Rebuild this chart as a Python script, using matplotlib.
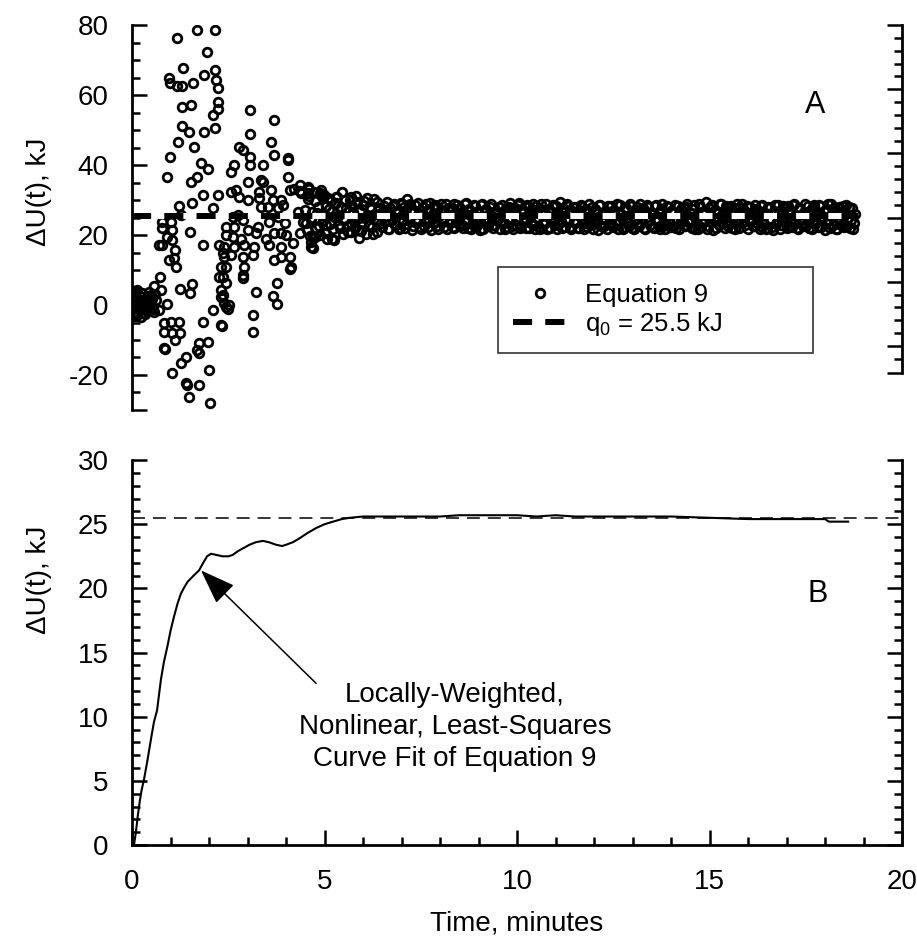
import matplotlib
matplotlib.use('Agg')
import matplotlib.pyplot as plt
import numpy as np
from matplotlib.lines import Line2D
from matplotlib.ticker import FixedLocator, MultipleLocator

plt.rcParams['font.family'] = ['Liberation Sans', 'DejaVu Sans']
plt.rcParams['axes.unicode_minus'] = False
plt.rcParams['mathtext.default'] = 'regular'

# Panel A: early, widely scattered estimates from Equation 9 (time in minutes, dU in kJ)
early_time = [
    1.18, 1.68, 2.16, 1.94, 1.33, 0.96, 0.98, 1.18, 1.31, 1.59, 1.88, 2.16, 2.18, 2.22, 2.22,
    2.24, 2.09, 1.31, 1.53, 1.29, 1.48, 1.88, 2.16, 1.20, 1.61, 0.98, 1.79, 1.96, 0.90, 1.70,
    1.53, 1.83, 2.22, 1.57, 2.09, 1.21, 0.77, 1.01, 1.27, 0.77, 1.05, 1.50, 0.92, 0.70, 0.79,
    1.05, 1.83, 1.12, 1.09, 0.95, 1.14, 1.24, 1.57, 1.50, 0.73, 0.57, 0.75, 0.14, 0.27, 0.40,
    0.05, 0.18, 0.36, 0.53, 0.10, 0.23, 0.57, 0.70, 0.92, 0.01, 0.31, 0.44, 0.14, 0.62, 0.49,
    0.83, 1.01, 1.21, 0.83, 1.05, 1.24, 1.12, 0.83, 0.85, 1.74, 1.96, 1.70, 1.74, 1.40, 1.27,
    1.05, 2.01, 1.40, 1.42, 1.74, 1.47, 2.02, 1.83, 2.09, 2.31, 2.27, 2.35, 2.31, 2.27, 2.44,
    2.44, 2.31,
    3.06, 3.70, 3.06, 3.61, 2.79, 2.87, 3.06, 3.70, 4.05, 4.05, 2.66, 2.57, 3.06, 3.39, 3.00,
    3.35, 3.39, 4.05, 2.57, 2.70, 2.79, 3.00, 3.31, 3.61, 3.31, 3.65, 3.87, 4.09, 4.35, 4.57,
    4.39, 4.57, 4.87, 4.96, 3.35, 3.52, 3.78, 3.91, 4.31, 2.74, 2.61, 2.87, 2.44, 2.66, 3.00,
    3.26, 3.57, 3.78, 3.96, 4.44, 4.65, 2.44, 2.61, 2.83, 3.22, 3.48, 3.70, 4.00, 4.35, 4.74,
    5.04, 2.40, 2.66, 2.92, 3.18, 3.57, 3.87, 4.18, 4.65, 2.40, 2.57, 2.87, 3.13, 3.87, 4.09,
    3.70, 2.44, 2.92, 2.87, 2.87, 4.13, 4.11, 2.35, 2.31, 2.35, 3.22, 3.76, 3.67, 3.76, 2.40,
    2.53, 2.48, 3.13, 3.13, 2.34,
    4.20, 4.35, 4.60, 4.90, 5.30, 5.70, 4.65, 4.70, 5.20, 5.90, 3.87,
    0.02, 0.06, 0.08, 0.12, 0.16, 0.20, 0.25, 0.29, 0.33, 0.38, 0.42, 0.47, 0.52, 0.55, 0.60,
    0.03, 0.10, 0.21, 0.34, 0.45,
]
early_du = [
    76.2, 78.6, 78.6, 72.4, 67.8, 64.8, 63.3, 62.6, 62.6, 63.3, 65.7, 67.1, 64.3, 61.9, 58.1,
    55.9, 54.3, 56.5, 57.1, 51.1, 49.5, 49.5, 50.5, 46.7, 45.2, 42.4, 40.5, 39.0, 36.7, 36.7,
    35.2, 31.4, 31.4, 29.2, 27.6, 28.3, 23.8, 23.8, 25.7, 21.9, 21.4, 20.9, 19.5, 17.1, 17.1,
    18.6, 17.1, 15.7, 13.3, 12.9, 10.9, 4.5, 6.0, 3.5, 8.1, 5.4, 4.3, 4.3, 3.3, 1.9,
    1.4, 0.0, 0.5, -0.5, -1.9, -3.3, -1.9, -1.4, 0.3, 3.3, -1.0, -1.4, -2.9, 1.4, 2.9,
    -5.2, -4.8, -4.8, -7.6, -8.1, -8.1, -10.0, -12.4, -12.6, -10.9, -10.5, -13.0, -13.6, -14.8, -16.7,
    -19.5, -18.6, -22.4, -22.9, -22.9, -26.2, -28.1, -4.8, -1.4, -5.7, 17.1, 14.8, 10.9, 8.1, 6.2,
    -0.5, 2.4,
    55.7, 52.9, 48.9, 46.7, 45.2, 44.3, 42.4, 42.9, 41.9, 41.4, 40.0, 38.1, 40.0, 40.0, 35.2,
    35.7, 35.2, 36.7, 32.4, 32.9, 30.9, 30.0, 32.4, 32.9, 30.5, 30.0, 30.0, 32.9, 34.3, 33.8,
    31.9, 31.9, 32.1, 30.9, 28.1, 28.1, 27.6, 28.6, 26.7, 25.7, 25.2, 24.3, 22.4, 22.4, 21.4,
    22.4, 23.8, 25.2, 23.3, 23.8, 24.8, 20.0, 19.5, 19.0, 20.5, 19.0, 20.5, 20.0, 20.5, 19.5,
    20.5, 16.7, 16.7, 17.1, 16.7, 17.1, 16.7, 17.6, 16.7, 13.8, 14.3, 13.8, 14.3, 13.8, 13.8,
    12.9, 10.9, 10.9, 8.6, 7.6, 10.9, 10.2, 8.1, 4.3, 2.9, 3.8, 6.2, 2.6, 0.3, 0.5,
    0.0, -1.0, -2.9, -7.6, -6.0,
    33.2, 32.5, 33.1, 31.5, 31.0, 30.8, 17.9, 16.3, 18.8, 19.1, 20.5,
    -1.2, 4.0, -3.1, 2.1, -0.8, 2.5, 0.8, -2.2, 1.6, -0.2, 2.4, 0.6, 1.8, -1.0, 3.1,
    2.6, 0.4, -1.5, -2.6, 3.6,
]

# Panel A: settled samples, one every 0.05 min from 4.5 min on ...
BAND_START = 4.5
BAND_STEP = 0.05
band_du = [
    27.1, 21.4, 31.2, 24.6, 19.3, 29.8, 26.2, 22.7, 33.0, 24.1, 20.5, 28.4, 30.6, 23.2, 26.9, 18.7, 29.1, 25.3, 21.9, 32.2,
    24.4, 27.7, 20.8, 30.1, 23.5, 26.6, 22.1, 29.3, 25.0, 21.2, 28.6, 24.9, 30.7, 22.8, 27.3, 20.4, 26.1, 29.5, 23.9, 25.7,
    22.3, 28.2, 25.4, 21.7, 27.6, 24.2, 29.0, 23.0, 26.8, 22.0, 28.9, 25.9, 21.9, 30.4, 24.7, 27.2, 22.6, 28.5, 23.8, 26.4,
    21.8, 28.1, 24.5, 26.9, 22.4, 29.1, 25.2, 23.3, 28.4, 21.6, 27.0, 24.8, 22.2, 28.8, 25.6, 23.5, 27.7, 21.9, 26.3, 28.6,
    23.1, 25.8, 22.0, 28.9, 24.4, 27.4, 21.7, 26.0, 28.3, 23.6, 25.1, 21.5, 29.0, 24.0, 27.5, 22.5, 28.1, 25.4, 22.9, 27.0,
    24.6, 21.8, 28.7, 23.4, 26.5, 22.3, 28.0, 25.0, 21.6, 27.8, 24.2, 29.1, 22.7, 26.2, 23.8, 28.5, 21.9, 25.7, 27.3, 22.8,
    28.4, 24.9, 21.7, 27.1, 23.2, 28.8, 25.5, 22.1, 26.7, 24.3, 28.2, 21.6, 25.9, 23.7, 27.6, 22.4, 29.0, 24.6, 21.8, 27.9,
    23.5, 26.4, 22.0, 28.6, 24.8, 21.7, 27.3, 25.2, 22.9, 28.1, 23.9, 26.8, 21.5, 28.7, 24.5, 22.6, 27.0, 25.8, 23.1, 28.3,
    22.2, 25.6, 28.9, 23.7, 26.1, 21.8, 27.7, 24.0, 22.5, 28.4, 25.3, 21.6, 27.2, 23.4, 28.8, 24.7, 22.1, 26.6, 28.0, 23.0,
    25.9, 21.9, 28.5, 24.3, 22.7, 27.5, 25.1, 21.6, 28.2, 23.6, 26.9, 22.4, 28.7, 24.1, 21.8, 27.4, 25.5, 22.9, 28.1, 23.8,
    26.3, 22.0, 28.6, 24.5, 21.7, 27.9, 23.3, 26.0, 29.3, 22.6, 25.4, 28.3, 21.5, 27.1, 24.2, 22.8, 28.9, 25.7, 21.9, 26.8,
    23.5, 28.4, 24.8, 21.6, 27.6, 25.0, 22.3, 28.8, 23.9, 26.5, 21.8, 28.1, 24.4, 22.5, 27.3, 25.3, 21.7, 28.6, 23.2, 26.2,
    22.1, 27.8, 24.7, 21.5, 28.5, 23.7, 26.4, 22.8, 28.2, 25.1, 21.9, 27.0, 24.0, 22.4, 28.9, 25.6, 21.6, 27.5, 23.4, 26.7,
    22.6, 28.3, 24.6, 21.8, 27.9, 23.1, 26.1, 28.7, 22.2, 25.2, 21.5, 27.4, 24.3, 28.8, 22.9, 26.9, 21.7, 28.1, 23.6, 25.8,
    22.4, 28.6, 24.9, 21.9, 27.7, 23.3,
]
# ... and the samples in between (4.525, 4.575, ...)
band_du_mid = [
    23.4, 30.2, 19.8, 26.5, 32.4, 22.0, 27.9, 20.1, 25.6, 31.5, 23.0, 18.9, 27.4, 29.6, 21.6, 25.1, 31.0, 22.8, 28.1, 20.2,
    29.9, 22.5, 26.9, 20.9, 28.3, 24.8, 31.1, 21.5, 27.0, 23.7, 29.8, 20.3, 25.5, 28.0, 22.4, 30.3, 24.1, 21.0, 27.8, 23.3,
    27.0, 23.9, 29.4, 21.6, 25.8, 28.4, 22.9, 26.3, 21.8, 29.2, 24.0, 27.9, 23.1, 25.2, 28.8, 21.5, 26.7, 24.6, 29.1, 22.2,
    25.9, 22.7, 28.8, 23.6, 27.3, 21.5, 26.1, 28.7, 22.6, 25.3, 29.0, 23.9, 26.6, 21.7, 27.8, 24.2, 22.3, 28.9, 23.8, 25.0,
    27.7, 22.9, 26.2, 29.2, 21.9, 25.6, 23.2, 28.7, 22.4, 26.9, 24.1, 28.5, 21.7, 27.1, 23.7, 25.9, 29.0, 22.0, 26.4, 24.3,
    28.1, 23.5, 25.4, 21.7, 27.6, 24.7, 29.2, 22.6, 26.0, 23.0, 28.6, 21.9, 27.3, 24.9, 22.1, 28.0, 25.1, 23.3, 28.8, 21.8,
    26.2, 22.4, 28.9, 23.8, 25.9, 21.6, 27.5, 24.1, 28.7, 22.8, 25.7, 23.2, 29.3, 21.9, 26.6, 24.5, 28.3, 22.3, 27.0, 23.9,
    28.0, 21.9, 25.5, 27.9, 23.4, 26.7, 22.2, 28.8, 24.0, 21.6, 27.4, 23.8, 28.5, 22.5, 26.1, 24.6, 21.7, 28.2, 25.3, 22.8,
    27.1, 23.9, 21.7, 28.6, 25.0, 22.3, 27.8, 23.5, 29.0, 21.9, 26.3, 24.4, 28.1, 22.7, 25.8, 27.6, 21.6, 28.7, 24.2, 26.0,
    22.3, 28.3, 24.6, 26.4, 21.8, 28.9, 23.1, 25.6, 27.9, 22.2, 26.8, 24.0, 21.9, 28.4, 23.5, 25.2, 27.7, 22.6, 28.8, 24.4,
    23.9, 27.3, 21.8, 25.8, 28.8, 22.4, 26.6, 24.0, 21.8, 27.7, 23.6, 28.5, 25.0, 22.1, 26.4, 29.0, 23.3, 25.5, 28.2, 22.7,
    27.9, 22.0, 26.3, 24.1, 28.9, 21.9, 25.6, 27.5, 22.8, 28.3, 24.2, 25.9, 22.7, 28.6, 23.5, 26.8, 28.2, 22.4, 25.6, 21.7,
    28.1, 24.5, 22.3, 26.9, 23.2, 28.7, 21.8, 25.9, 27.6, 23.1, 28.4, 22.2, 26.2, 28.5, 23.7, 21.9, 27.8, 24.4, 22.6, 29.0,
    25.4, 21.9, 27.2, 23.8, 28.6, 25.7, 22.4, 28.2, 24.9, 27.0, 23.5, 28.9, 22.1, 25.6, 27.7, 21.8, 24.6, 26.5, 22.9, 28.4,
    26.1, 22.6, 27.9, 24.3, 21.8, 26.0,
]

# Panel B: locally-weighted nonlinear least-squares fit
fit_time = [
    0.05, 0.10, 0.15, 0.20, 0.25, 0.31, 0.40, 0.50, 0.57, 0.65, 0.75, 0.83, 0.92, 1.00, 1.09,
    1.18, 1.27, 1.36, 1.44, 1.60, 1.74, 1.85, 1.95, 2.05, 2.20, 2.35, 2.50, 2.61, 2.75, 2.87,
    3.05, 3.22, 3.40, 3.55, 3.74, 3.90, 4.00, 4.18, 4.35, 4.55, 4.78, 5.00, 5.22, 5.45, 5.65,
    6.00, 7.00, 8.00, 8.50, 9.00, 10.00, 10.50, 11.00, 11.50, 12.50, 14.00, 15.00, 16.00, 17.00, 18.00,
    18.10, 18.60,
]
fit_du = [
    0.0, 1.0, 2.3, 3.4, 4.3, 5.1, 6.6, 8.4, 9.6, 10.5, 12.9, 14.3, 15.5, 16.7, 17.8,
    18.8, 19.6, 20.1, 20.5, 21.0, 21.4, 22.0, 22.5, 22.7, 22.6, 22.5, 22.5, 22.6, 22.9, 23.1,
    23.4, 23.6, 23.7, 23.6, 23.4, 23.3, 23.4, 23.6, 23.9, 24.3, 24.7, 25.0, 25.2, 25.4, 25.5,
    25.6, 25.6, 25.6, 25.7, 25.7, 25.7, 25.6, 25.7, 25.6, 25.6, 25.6, 25.5, 25.4, 25.4, 25.4,
    25.2, 25.2,
]

Q0 = 25.5
Q0_END = 18.85

FONT = 20
SPINE_W = 2.0
TICK_W = 1.8


def style_ticks(ax):
    ax.tick_params(which='both', direction='in', width=TICK_W, labelsize=FONT, pad=17)
    ax.tick_params(which='major', length=10.8)
    ax.tick_params(which='minor', length=5.8)
    for s in ax.spines.values():
        s.set_linewidth(SPINE_W)


def plot_panel_a(ax):
    band_time = BAND_START + BAND_STEP * np.arange(len(band_du))
    mid_time = BAND_START + BAND_STEP / 2 + BAND_STEP * np.arange(len(band_du_mid))
    marker = dict(linestyle='none', marker='o', mfc='none', mec='black', ms=6.2, mew=2.0)
    ax.plot(early_time, early_du, **marker)
    ax.plot(band_time, band_du, **marker)
    ax.plot(mid_time, band_du_mid, **marker)

    # white underlay so the dash gaps stay open over the dense band
    ax.plot([0, Q0_END], [Q0, Q0], color='white', lw=4.3, solid_capstyle='butt')
    ax.plot([0, Q0_END], [Q0, Q0], color='black', lw=4.3, dashes=(3.2, 2.2), dash_capstyle='butt')

    ax.set_xlim(0, 20)
    ax.set_ylim(-30, 80)
    for side in ['top', 'bottom', 'right']:
        ax.spines[side].set_visible(False)
    ax.tick_params(axis='x', which='both', bottom=False, labelbottom=False)
    ax.yaxis.set_major_locator(FixedLocator([-30, -20, 0, 20, 40, 60, 80]))
    ax.yaxis.set_major_formatter(lambda v, pos: '' if v == -30 else f'{v:.0f}')
    ax.yaxis.set_minor_locator(MultipleLocator(5))
    style_ticks(ax)
    ax.set_ylabel('ΔU(t), kJ', fontsize=FONT)
    ax.yaxis.set_label_coords(-0.104, 0.566)

    # unlabeled right-hand scale
    ax_r = ax.twinx()
    ax_r.set_ylim(0, 30)
    for side in ['top', 'bottom', 'left']:
        ax_r.spines[side].set_visible(False)
    ax_r.spines['right'].set_bounds(2.9, 30)
    ax_r.yaxis.set_major_locator(FixedLocator([2.9, 5, 10, 15, 20, 25, 30]))
    ax_r.yaxis.set_minor_locator(FixedLocator([v for v in range(4, 30) if v % 5]))
    style_ticks(ax_r)
    ax_r.tick_params(labelright=False)

    handles = [
        Line2D([], [], linestyle='none', marker='o', mfc='none', mec='black', ms=6.2, mew=2.0),
        Line2D([], [], color='black', lw=4.3, dashes=(3.2, 2.2), dash_capstyle='butt'),
    ]
    leg = ax_r.legend(handles, ['Equation 9', 'q$_0$ = 25.5 kJ'], loc='upper left',
                      bbox_to_anchor=(0.475, 0.182, 0.409, 0.189), mode='expand',
                      borderaxespad=0, fancybox=False, framealpha=1, edgecolor='#333333',
                      fontsize=18.5, handlelength=2.1, handletextpad=0.7, labelspacing=0.12,
                      borderpad=0.6)
    leg.get_frame().set_linewidth(1.2)

    ax.text(17.74, 57.1, 'A', fontsize=22, ha='center', va='center')


def plot_panel_b(ax):
    ax.plot([0, 20], [Q0, Q0], color='black', lw=1.1, dashes=(8.5, 5.2))
    ax.plot(fit_time, fit_du, color='black', lw=1.5)

    ax.set_xlim(0, 20)
    ax.set_ylim(0, 30)
    ax.spines['top'].set_visible(False)
    ax.xaxis.set_major_locator(MultipleLocator(5))
    ax.xaxis.set_minor_locator(MultipleLocator(1))
    ax.yaxis.set_major_locator(MultipleLocator(5))
    ax.yaxis.set_minor_locator(MultipleLocator(1))
    style_ticks(ax)
    ax.tick_params(which='both', top=False, right=True)
    ax.set_ylabel('ΔU(t), kJ', fontsize=FONT)
    ax.yaxis.set_label_coords(-0.104, 0.688)
    ax.set_xlabel('Time, minutes', fontsize=FONT)
    ax.xaxis.set_label_coords(0.5, -0.17)

    ax.annotate('', xy=(1.79, 21.4), xytext=(4.78, 12.6),
                arrowprops=dict(arrowstyle='-|>,head_length=1.1,head_width=0.4',
                                mutation_scale=20, color='black', lw=1.1, shrinkA=0, shrinkB=0))
    ax.text(8.39, 9.2, 'Locally-Weighted,\nNonlinear, Least-Squares\nCurve Fit of Equation 9',
            fontsize=FONT, ha='center', va='center', multialignment='center', linespacing=1.3)
    ax.text(17.8, 19.6, 'B', fontsize=22, ha='center', va='center')


if __name__ == '__main__':
    fig = plt.figure(figsize=(9.17, 9.41), dpi=100)
    ax_a = fig.add_axes([0.144, 0.5643, 0.8397, 0.4091])
    ax_b = fig.add_axes([0.144, 0.1020, 0.8397, 0.4091])
    plot_panel_a(ax_a)
    plot_panel_b(ax_b)
    fig.savefig('out.png', dpi=100)
